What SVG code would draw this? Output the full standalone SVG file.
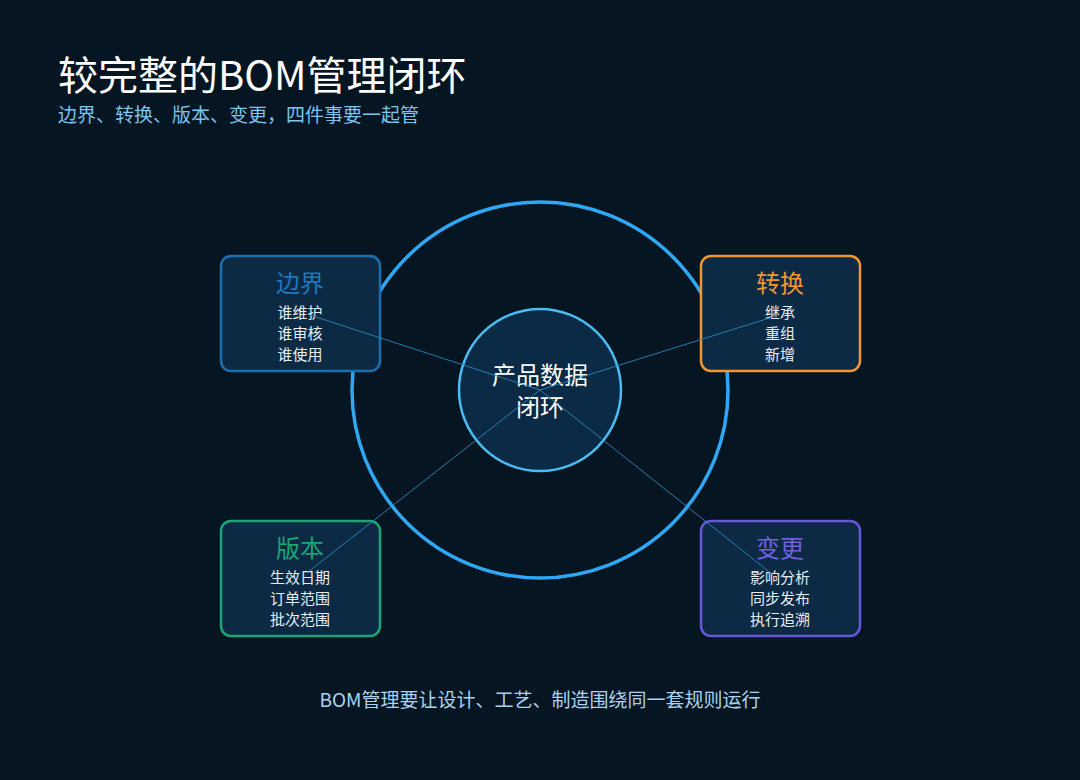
<svg xmlns="http://www.w3.org/2000/svg" width="1080" height="780" viewBox="0 0 1080 780">
<style>
text{font-family:"Noto Sans CJK SC","Noto Sans",sans-serif;text-anchor:middle}
.box{fill:#0d2a45;stroke-width:2.5}
.t{font-size:24px}
.s{font-size:15px;fill:#e6eef5}
.c{stroke:#2a8fc0;stroke-width:1;opacity:.85}
</style>
<rect width="1080" height="780" fill="#061522"/>
<text x="58" y="90" font-size="40" fill="#ffffff" style="text-anchor:start">较完整的BOM管理闭环</text>
<text x="58" y="122" font-size="19" fill="#7cc3ee" style="text-anchor:start">边界、转换、版本、变更，四件事要一起管</text>
<circle cx="540" cy="390" r="188" fill="none" stroke="#2ea8f5" stroke-width="3.5"/>
<g id="center"><circle cx="540" cy="390" r="81" fill="#0b2a45" stroke="#4bbcf0" stroke-width="2.5"/>
<text x="540" y="384" font-size="24" fill="#ffffff">产品数据</text><text x="540" y="416" font-size="24" fill="#ffffff">闭环</text></g>
<g id="n1"><rect class="box" x="221" y="256" width="159" height="115" rx="10" stroke="#1a6fb0"/>
<text class="t" x="300" y="292" fill="#1a78c0">边界</text><text class="s" x="300" y="318">谁维护</text><text class="s" x="300" y="339">谁审核</text><text class="s" x="300" y="360">谁使用</text></g>
<g id="n2"><rect class="box" x="701" y="256" width="159" height="115" rx="10" stroke="#f0962e"/>
<text class="t" x="780" y="292" fill="#f0962e">转换</text><text class="s" x="780" y="318">继承</text><text class="s" x="780" y="339">重组</text><text class="s" x="780" y="360">新增</text></g>
<g id="n3"><rect class="box" x="221" y="521" width="159" height="115" rx="10" stroke="#1aa574"/>
<text class="t" x="300" y="557" fill="#1aa574">版本</text><text class="s" x="300" y="583">生效日期</text><text class="s" x="300" y="604">订单范围</text><text class="s" x="300" y="625">批次范围</text></g>
<g id="n4"><rect class="box" x="701" y="521" width="159" height="115" rx="10" stroke="#6a55dd"/>
<text class="t" x="780" y="557" fill="#7060e0">变更</text><text class="s" x="780" y="583">影响分析</text><text class="s" x="780" y="604">同步发布</text><text class="s" x="780" y="625">执行追溯</text></g>
<g id="connectors">
<line class="c" x1="540" y1="390" x2="310" y2="315"/>
<line class="c" x1="540" y1="390" x2="776" y2="316"/>
<line class="c" x1="540" y1="390" x2="308" y2="572"/>
<line class="c" x1="540" y1="390" x2="772" y2="574"/>
</g>
<text x="540" y="707" font-size="19" fill="#a9d3ee">BOM管理要让设计、工艺、制造围绕同一套规则运行</text>
</svg>
